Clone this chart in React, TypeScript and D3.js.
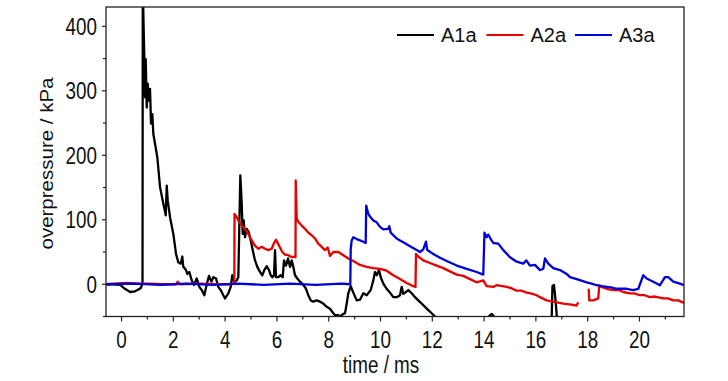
import React from "react";
import * as d3 from "d3";

// time (ms), overpressure (kPa); null = gap
const A1A: [number, number | null][] = [
  [-0.6, 0], [-0.3, 0], [-0.05, -1], [0.13, -7], [0.33, -12], [0.52, -11], [0.65, -8], [0.74, -6], [0.79, -1], [0.81, 2],
  [0.82, 460], [0.857, 393], [0.88, 352], [0.907, 290], [0.934, 349], [0.973, 274], [1.012, 311], [1.05, 285], [1.1, 303],
  [1.139, 249], [1.189, 264], [1.228, 233], [1.293, 218], [1.382, 197], [1.486, 151], [1.614, 125], [1.707, 107], [1.745, 153],
  [1.784, 130], [1.873, 104], [2.0, 78], [2.104, 47], [2.193, 34], [2.286, 32], [2.347, 43], [2.386, 27], [2.49, 22], [2.541, 16],
  [2.618, 19], [2.71, 6], [2.799, -1], [2.903, 9], [3.004, -4], [3.097, -9], [3.197, -17], [3.29, 0], [3.378, 13], [3.47, 4],
  [3.544, 11], [3.649, 9], [3.737, -4], [3.83, -9], [3.93, -17], [3.996, -22], [4.124, -14], [4.216, -4], [4.278, 14], [4.355, 4],
  [4.448, 6], [4.51, 11], [4.548, 89], [4.587, 169], [4.641, 125], [4.68, 78], [4.718, 99], [4.768, 73], [4.834, 86], [4.911, 81],
  [4.988, 68], [5.066, 53], [5.154, 37], [5.243, 27], [5.347, 19], [5.436, 14], [5.514, 22], [5.606, 28], [5.695, 22], [5.761, 14],
  [5.822, 11], [5.888, 14], [5.927, 53], [5.965, 11], [6.054, 11], [6.147, 14], [6.224, 11], [6.274, 37], [6.351, 29], [6.429, 40],
  [6.506, 27], [6.571, 37], [6.633, 27], [6.699, 14], [6.788, 9], [6.892, 4], [7.019, -1], [7.124, -7], [7.212, -17], [7.305, -25],
  [7.405, -27], [7.537, -25], [7.664, -27], [7.792, -30], [7.923, -35], [8.05, -38], [8.178, -45], [8.243, -48], [8.371, -48],
  [8.436, -50], [8.564, -46], [8.629, -45], [8.695, -30], [8.757, -14], [8.85, -3], [8.95, -13], [9.081, -25], [9.208, -24],
  [9.336, -14], [9.467, -17], [9.622, -9], [9.722, 6], [9.788, 19], [9.853, 14], [9.942, 22], [10.008, 11], [10.108, 1],
  [10.239, -7], [10.367, -13], [10.494, -20], [10.626, -20], [10.753, -17], [10.819, -4], [10.88, -15], [10.985, -12],
  [11.073, -9], [11.205, -14], [11.332, -20], [11.459, -25], [11.591, -30], [11.718, -35], [11.846, -40], [11.977, -45],
  [12.104, -50], [12.3, -60], [14.1, -62], [14.2, -49], [14.3, -46], [14.38, -50], [14.5, -64], [16.6, -70], [16.64, -3],
  [16.7, -1], [16.76, -25], [16.82, -55], [17, -80], [21.72, -80],
];

const A2A: [number, number | null][] = [
  [-0.6, 0], [0.2, 2], [0.6, 1], [1.1, 1], [1.6, 0], [2.1, 0], [2.17, 4], [2.26, 0], [3, 1], [3.6, 0], [4.27, 0], [4.355, 2],
  [4.363, 109], [4.448, 104], [4.548, 96], [4.641, 91], [4.768, 86], [4.896, 78], [5.027, 68], [5.154, 60], [5.282, 55],
  [5.413, 58], [5.541, 55], [5.668, 53], [5.799, 55], [5.888, 64], [5.965, 69], [6.042, 63], [6.12, 57], [6.208, 50],
  [6.313, 46], [6.44, 45], [6.571, 42], [6.687, 43], [6.718, 42], [6.726, 161], [6.764, 102], [6.826, 97], [6.958, 91],
  [7.085, 86], [7.212, 80], [7.344, 76], [7.471, 71], [7.598, 63], [7.73, 58], [7.857, 53], [7.961, 57], [8.05, 44],
  [8.178, 50], [8.371, 50], [8.564, 45], [8.757, 40], [8.95, 36], [9.208, 30], [9.467, 27], [9.722, 25], [9.981, 24],
  [10.239, 21], [10.494, 14], [10.753, 8], [11.012, 2], [11.266, -3], [11.351, -4], [11.371, 47], [11.459, 43], [11.653, 37],
  [11.911, 33], [12.17, 29], [12.425, 25], [12.683, 20], [12.942, 15], [13.197, 13], [13.456, 8], [13.714, 3], [13.969, 6],
  [14.1, -3], [14.355, -4], [14.486, -1.5], [14.873, -4], [15.05, -6], [15.259, -10], [15.45, -10], [15.645, -13], [15.8, -14],
  [16.031, -17], [16.158, -20], [16.417, -25], [16.672, -27], [17.058, -30], [17.444, -32], [17.575, -33], [17.637, -28],
  [17.8, null], [18.039, -7], [18.062, -25], [18.216, -25], [18.409, -22], [18.448, -2], [18.541, -4], [18.734, -7],
  [18.989, -9], [19.2, -9], [19.375, -12], [19.633, -14], [19.8, -14], [20.019, -17], [20.2, -17], [20.405, -20], [20.6, -19],
  [20.919, -22], [21.1, -22], [21.305, -25], [21.5, -25], [21.72, -29],
];

const A3A: [number, number | null][] = [
  [-0.6, 0], [0.5, 1], [1.5, -1], [2.5, 1], [3.5, -1], [4.5, 1], [5.5, -1], [6.5, 1], [7.5, -1], [8.5, 1], [8.834, 0],
  [8.85, 55], [8.888, 68], [8.95, 73], [9.081, 70], [9.208, 68], [9.336, 66], [9.429, 64], [9.448, 122], [9.529, 109],
  [9.595, 105], [9.722, 99], [9.853, 96], [9.981, 89], [10.108, 85], [10.301, 86], [10.34, 90], [10.394, 80], [10.625, 71],
  [10.753, 68], [10.88, 65], [11.139, 59], [11.398, 53], [11.525, 50], [11.653, 54], [11.757, 66], [11.807, 53], [12.039, 47],
  [12.297, 41], [12.556, 36], [12.942, 29], [13.328, 24], [13.714, 19], [13.969, 15], [14.015, 80], [14.1, 73], [14.162, 77],
  [14.228, 72], [14.355, 64], [14.548, 63], [14.741, 53], [15.0, 42], [15.259, 35], [15.514, 32], [15.63, 37], [15.772, 29],
  [15.965, 30], [16.158, 22], [16.286, 24], [16.351, 40], [16.479, 32], [16.672, 25], [16.931, 22], [17.189, 16], [17.317, 11],
  [17.575, 8], [17.961, 3], [18.15, 1], [18.347, -1.5], [18.55, -3], [18.734, -4], [18.9, -5], [19.12, -7], [19.3, -7],
  [19.506, -7], [19.761, -9], [19.954, -7], [20.147, 14], [20.278, 9], [20.533, 4], [20.792, -1.5], [20.985, 11], [21.112, 11],
  [21.305, 4], [21.564, 1], [21.72, -1.5],
];

const SERIES_NAMES = ["A1a", "A2a", "A3a"];
const SERIES_COLORS = ["#000000", "#e60000", "#0000d8"];
const X_MAJOR = [0, 2, 4, 6, 8, 10, 12, 14, 16, 18, 20];
const X_MINOR = [1, 3, 5, 7, 9, 11, 13, 15, 17, 19, 21];
const Y_MAJOR = [0, 100, 200, 300, 400];
const Y_MINOR = [-50, 50, 150, 250, 350];

export default function App() {
  const W = 728, H = 381;
  const left = 106, right = 684, top = 7, bottom = 316.5;
  const x = d3.scaleLinear().domain([-0.6, 21.72]).range([left, right]);
  const y = d3.scaleLinear().domain([-50, 430]).range([bottom, top]);
  const line = d3
    .line<[number, number | null]>()
    .defined((d) => d[1] !== null)
    .x((d) => x(d[0]))
    .y((d) => y(d[1] as number));
  const data = [A1A, A2A, A3A];
  const font = "'Liberation Sans', Arial, sans-serif";
  return (
    <svg
      width={W}
      height={H}
      style={{ position: "absolute", left: 0, top: 0, background: "#fff" }}
    >
      <defs>
        <clipPath id="plotclip">
          <rect x={left} y={top} width={right - left} height={bottom - top} />
        </clipPath>
      </defs>
      <rect x={0} y={0} width={W} height={H} fill="#fff" />
      <g clipPath="url(#plotclip)">
        {data.map((d, i) => (
          <path
            key={i}
            d={line(d) || ""}
            fill="none"
            stroke={SERIES_COLORS[i]}
            strokeWidth={2.3}
            strokeLinejoin="round"
          />
        ))}
      </g>
      {/* frame */}
      <rect x={left} y={top} width={right - left} height={bottom - top} fill="none" stroke="#222" strokeWidth={1.3} />
      {/* x ticks */}
      {X_MAJOR.map((v) => (
        <g key={"xm" + v}>
          <line x1={x(v)} x2={x(v)} y1={bottom} y2={bottom + 5} stroke="#222" strokeWidth={1.2} />
          <text
            transform={`translate(${x(v)},348) scale(0.82,1)`}
            textAnchor="middle"
            fontFamily={font}
            fontSize={23}
            fill="#111"
          >
            {v}
          </text>
        </g>
      ))}
      {X_MINOR.map((v) => (
        <line key={"xn" + v} x1={x(v)} x2={x(v)} y1={bottom} y2={bottom + 3} stroke="#222" strokeWidth={1.2} />
      ))}
      {/* y ticks */}
      {Y_MAJOR.map((v) => (
        <g key={"ym" + v}>
          <line x1={left - 4} x2={left} y1={y(v)} y2={y(v)} stroke="#222" strokeWidth={1.2} />
          <text
            transform={`translate(97,${y(v)}) scale(0.82,1)`}
            dy="0.36em"
            textAnchor="end"
            fontFamily={font}
            fontSize={23}
            fill="#111"
          >
            {v}
          </text>
        </g>
      ))}
      {Y_MINOR.map((v) => (
        <line key={"yn" + v} x1={left - 3} x2={left} y1={y(v)} y2={y(v)} stroke="#222" strokeWidth={1.2} />
      ))}
      {/* axis titles */}
      <text
        transform="translate(381,373) scale(0.82,1)"
        textAnchor="middle"
        fontFamily={font}
        fontSize={23}
        fill="#111"
      >
        time / ms
      </text>
      <text
        transform="translate(53,163.5) scale(0.9,1) rotate(-90)"
        textAnchor="middle"
        fontFamily={font}
        fontSize={20.5}
        fill="#111"
      >
        overpressure / kPa
      </text>
      {/* legend */}
      {SERIES_NAMES.map((name, i) => {
        const lx = [397, 486.5, 575][i];
        return (
          <g key={name}>
            <line x1={lx} x2={lx + 37} y1={35} y2={35} stroke={SERIES_COLORS[i]} strokeWidth={2} />
            <text x={lx + 44} y={42} fontFamily={font} fontSize={20} fill="#111">
              {name}
            </text>
          </g>
        );
      })}
    </svg>
  );
}
